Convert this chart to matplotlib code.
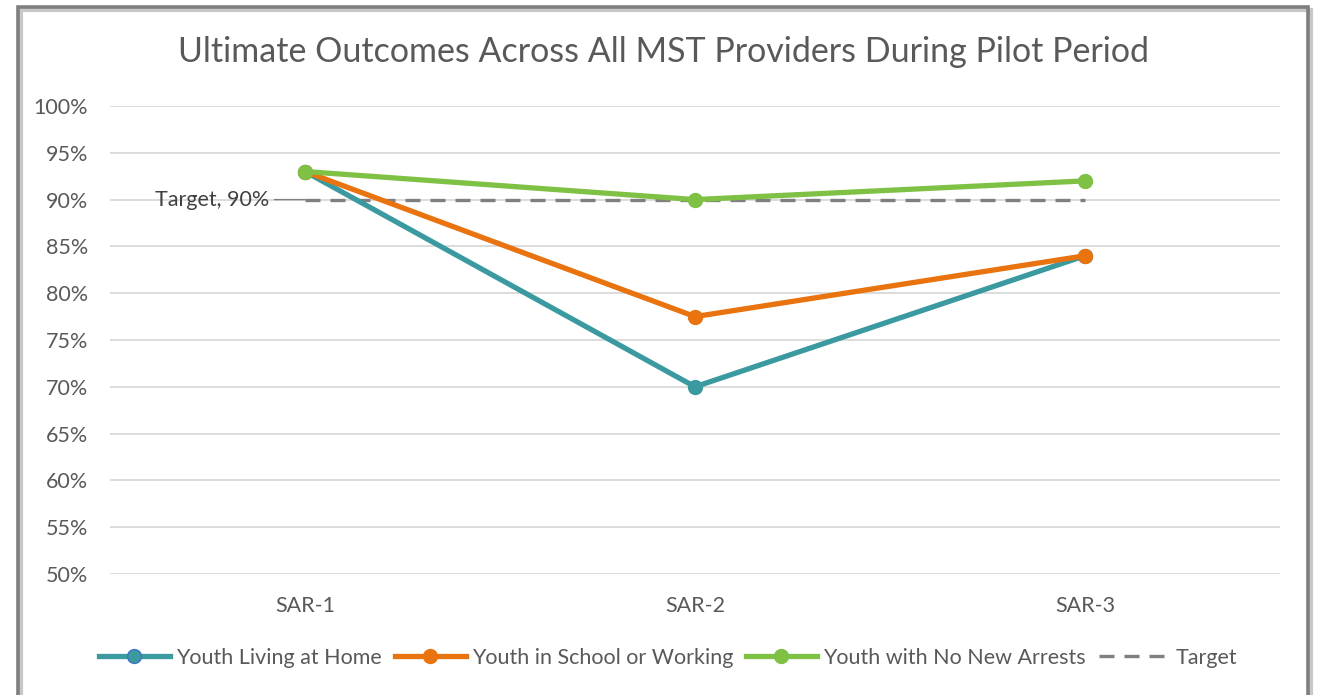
import matplotlib
matplotlib.use("Agg")
import matplotlib.pyplot as plt
from matplotlib.patches import Rectangle
from matplotlib.lines import Line2D

categories = ["SAR-1", "SAR-2", "SAR-3"]
living_home = [93, 70, 84]
school_work = [93, 77.5, 84]
no_arrests = [93, 90, 92]
target = [90, 90, 90]
yticks = [50, 55, 60, 65, 70, 75, 80, 85, 90, 95, 100]

W, H = 1321, 695
plt.rcParams["font.family"] = ["Lato", "DejaVu Sans"]
fig = plt.figure(figsize=(W / 100, H / 100), dpi=100)

# chart frame with soft shadow
fig.patches.append(Rectangle((21 / W, -0.05), 1290 / W, 1 - 10 / H + 0.05,
                             transform=fig.transFigure, facecolor="none",
                             edgecolor="#c8c8c8", linewidth=3, zorder=-2))
fig.patches.append(Rectangle((18 / W, -0.05), 1290 / W, 1 - 7 / H + 0.05,
                             transform=fig.transFigure, facecolor="none",
                             edgecolor="#7f7f7f", linewidth=2.6, zorder=-1))

ax = fig.add_axes([110 / W, 1 - 574 / H, 1170 / W, 468 / H])
ax.set_facecolor("none")
x = range(len(categories))

dash = (0, (4.5, 3))
ax.plot(x, target, color="#7f7f7f", linestyle=dash, linewidth=2.4, zorder=2)
ax.plot(x, living_home, color="#3a9aa0", linewidth=3.8, marker="o",
        markersize=10, zorder=3)
ax.plot(x, school_work, color="#e8730f", linewidth=3.8, marker="o",
        markersize=10, zorder=4)
ax.plot(x, no_arrests, color="#7ec144", linewidth=3.8, marker="o",
        markersize=10, zorder=5)

ax.set_xlim(-0.5, len(categories) - 0.5)
ax.set_ylim(50, 100)
ax.set_yticks(yticks)
ax.set_yticklabels([f"{v}%" for v in yticks])
ax.set_xticks(list(x))
ax.set_xticklabels(categories)
ax.tick_params(length=0, labelsize=15.5, colors="#595959")
ax.tick_params(axis="y", pad=16)
ax.tick_params(axis="x", pad=16)
for s in ax.spines.values():
    s.set_visible(False)
ax.grid(axis="y", color="#d9d9d9", linewidth=1.3)
ax.set_axisbelow(True)

# target data label with leader line
ax.annotate("Target, 90%", xy=(0, target[0]), xytext=(-26, 0),
            textcoords="offset points", ha="right", va="center",
            fontsize=15.5, color="#404040",
            arrowprops=dict(arrowstyle="-", color="#7f7f7f", lw=1,
                            shrinkA=2, shrinkB=0))

fig.text(664 / W, 1 - 52 / H,
         "Ultimate Outcomes Across All MST Providers During Pilot Period",
         ha="center", va="center", fontsize=24.5, color="#595959")

handles = [
    Line2D([], [], color="#3a9aa0", lw=3.8, marker="o", markersize=10,
           markeredgecolor="#4472c4"),
    Line2D([], [], color="#e8730f", lw=3.8, marker="o", markersize=10),
    Line2D([], [], color="#7ec144", lw=3.8, marker="o", markersize=10),
    Line2D([], [], color="#7f7f7f", lw=2.4, linestyle=dash),
]
labels = ["Youth Living at Home", "Youth in School or Working",
          "Youth with No New Arrests", "Target"]
fig.legend(handles, labels, loc="center", bbox_to_anchor=(668 / W, 1 - 658 / H),
           ncol=4, frameon=False, fontsize=15.5, labelcolor="#595959",
           handlelength=3.3, handletextpad=0.28, columnspacing=0.6)

fig.savefig("out.png", dpi=100)
